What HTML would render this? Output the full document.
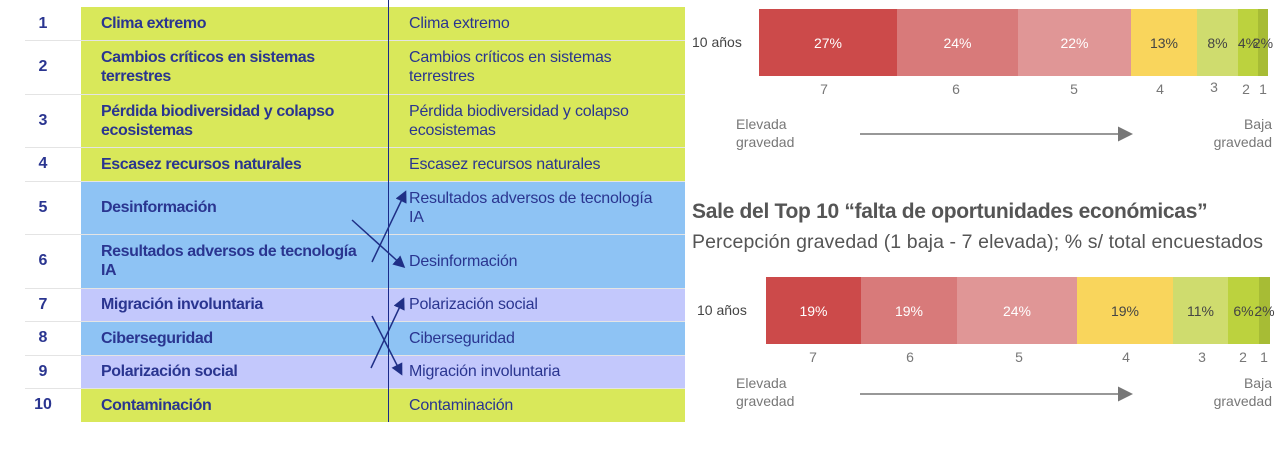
<!DOCTYPE html>
<html><head><meta charset="utf-8"><style>
body{margin:0;width:1288px;height:452px;background:#fff;font-family:"Liberation Sans",sans-serif;position:relative;overflow:hidden}
.a{position:absolute}
.row{position:absolute;left:25px;width:660px;border-top:1px solid #e4e4e4}
.num{position:absolute;left:25px;width:36px;text-align:center;font-weight:bold;color:#2a3590;font-size:16px}
.c1,.c2{position:absolute;box-sizing:border-box;display:flex;align-items:center;color:#2a3590;font-size:16px;line-height:19px;white-space:nowrap}
.c1{left:81px;width:307px;padding-left:20px;font-weight:bold;letter-spacing:-0.4px}
.c2{left:388px;width:297px;padding-left:21px;letter-spacing:-0.2px}
.g{background:#d9e85a}.b{background:#8ec3f4}.l{background:#c3c8fc}
.seg{position:absolute;display:flex;align-items:center;justify-content:center;font-size:14px;color:#fff;white-space:nowrap}
.d{color:#444}
.t{position:absolute;font-size:14px;color:#777;text-align:center;width:20px}
.s{position:absolute;font-size:14px;color:#777;line-height:18px}
</style></head><body>
<div class="c1 g" style="top:7px;height:33px">Clima extremo</div><div class="c2 g" style="top:7px;height:33px">Clima extremo</div>
<div class="c1 g" style="top:40px;height:54px">Cambios críticos en sistemas<br>terrestres</div><div class="c2 g" style="top:40px;height:54px">Cambios críticos en sistemas<br>terrestres</div>
<div class="c1 g" style="top:94px;height:53px">Pérdida biodiversidad y colapso<br>ecosistemas</div><div class="c2 g" style="top:94px;height:53px">Pérdida biodiversidad y colapso<br>ecosistemas</div>
<div class="c1 g" style="top:147px;height:34px">Escasez recursos naturales</div><div class="c2 g" style="top:147px;height:34px">Escasez recursos naturales</div>
<div class="c1 b" style="top:181px;height:53px">Desinformación</div><div class="c2 b" style="top:181px;height:53px;align-items:flex-start;padding-top:8px">Resultados adversos de tecnología<br>IA</div>
<div class="c1 b" style="top:234px;height:54px">Resultados adversos de tecnología<br>IA</div><div class="c2 b" style="top:234px;height:54px">Desinformación</div>
<div class="c1 l" style="top:288px;height:33px">Migración involuntaria</div><div class="c2 l" style="top:288px;height:33px">Polarización social</div>
<div class="c1 b" style="top:321px;height:34px">Ciberseguridad</div><div class="c2 b" style="top:321px;height:34px">Ciberseguridad</div>
<div class="c1 l" style="top:355px;height:33px">Polarización social</div><div class="c2 l" style="top:355px;height:33px">Migración involuntaria</div>
<div class="c1 g" style="top:388px;height:34px">Contaminación</div><div class="c2 g" style="top:388px;height:34px">Contaminación</div>
<div class="row" style="top:40px"></div><div class="row" style="top:94px"></div><div class="row" style="top:147px"></div><div class="row" style="top:181px"></div><div class="row" style="top:234px"></div><div class="row" style="top:288px"></div><div class="row" style="top:321px"></div><div class="row" style="top:355px"></div><div class="row" style="top:388px"></div>
<div class="num" style="top:15px">1</div><div class="num" style="top:58px">2</div><div class="num" style="top:112px">3</div><div class="num" style="top:155px">4</div><div class="num" style="top:199px">5</div><div class="num" style="top:252px">6</div><div class="num" style="top:296px">7</div><div class="num" style="top:329px">8</div><div class="num" style="top:363px">9</div><div class="num" style="top:396px">10</div>
<div class="a" style="left:388px;top:0;width:1px;height:422px;background:#1a2a8a"></div>
<svg class="a" style="left:0;top:0" width="1288" height="452">
<defs><marker id="m" markerWidth="8" markerHeight="8" refX="6" refY="4" orient="auto"><path d="M0,0 L8,4 L0,8z" fill="#1f2f86"/></marker>
<marker id="k" markerWidth="10" markerHeight="10" refX="8" refY="5" orient="auto"><path d="M0,0 L10,5 L0,10z" fill="#777"/></marker></defs>
<g stroke="#1f2f86" stroke-width="1.5" fill="none">
<line x1="352" y1="220" x2="403" y2="266" marker-end="url(#m)"/>
<line x1="372" y1="262" x2="405" y2="193" marker-end="url(#m)"/>
<line x1="372" y1="316" x2="401" y2="373" marker-end="url(#m)"/>
<line x1="371" y1="368" x2="403" y2="300" marker-end="url(#m)"/>
</g>
<line x1="860" y1="134" x2="1130" y2="134" stroke="#777" stroke-width="1.5" marker-end="url(#k)"/>
<line x1="860" y1="394" x2="1130" y2="394" stroke="#777" stroke-width="1.5" marker-end="url(#k)"/>
</svg>
<div class="a" style="left:692px;top:34px;font-size:14px;color:#444">10 años</div>
<div class="seg" style="left:759px;width:138px;top:9px;height:67px;background:#cc4a4a">27%</div>
<div class="seg" style="left:897px;width:121px;top:9px;height:67px;background:#d87a7a">24%</div>
<div class="seg" style="left:1018px;width:113px;top:9px;height:67px;background:#e09696">22%</div>
<div class="seg d" style="left:1131px;width:66px;top:9px;height:67px;background:#f9d55c">13%</div>
<div class="seg d" style="left:1197px;width:41px;top:9px;height:67px;background:#cfdc6e">8%</div>
<div class="seg d" style="left:1238px;width:20px;top:9px;height:67px;background:#bcd23e">4%</div>
<div class="seg d" style="left:1258px;width:10px;top:9px;height:67px;background:#a7bc35">2%</div>
<div class="t" style="left:814px;top:81px">7</div><div class="t" style="left:946px;top:81px">6</div><div class="t" style="left:1064px;top:81px">5</div><div class="t" style="left:1150px;top:81px">4</div><div class="t" style="left:1204px;top:79px">3</div><div class="t" style="left:1236px;top:81px">2</div><div class="t" style="left:1253px;top:81px">1</div>
<div class="s" style="left:736px;top:115px">Elevada<br>gravedad</div>
<div class="s" style="left:1200px;width:72px;text-align:right;top:115px">Baja<br>gravedad</div>
<div class="a" style="left:692px;top:200px;font-size:21px;font-weight:bold;color:#555;letter-spacing:-0.3px">Sale del Top 10 “falta de oportunidades económicas”</div>
<div class="a" style="left:692px;top:231px;font-size:19.5px;color:#555;letter-spacing:0.1px">Percepción gravedad (1 baja - 7 elevada); % s/ total encuestados</div>
<div class="a" style="left:697px;top:302px;font-size:14px;color:#444">10 años</div>
<div class="seg" style="left:766px;width:95px;top:277px;height:67px;background:#cc4a4a">19%</div>
<div class="seg" style="left:861px;width:96px;top:277px;height:67px;background:#d87a7a">19%</div>
<div class="seg" style="left:957px;width:120px;top:277px;height:67px;background:#e09696">24%</div>
<div class="seg d" style="left:1077px;width:96px;top:277px;height:67px;background:#f9d55c">19%</div>
<div class="seg d" style="left:1173px;width:55px;top:277px;height:67px;background:#cfdc6e">11%</div>
<div class="seg d" style="left:1228px;width:31px;top:277px;height:67px;background:#bcd23e">6%</div>
<div class="seg d" style="left:1259px;width:11px;top:277px;height:67px;background:#a7bc35">2%</div>
<div class="t" style="left:803px;top:349px">7</div><div class="t" style="left:900px;top:349px">6</div><div class="t" style="left:1009px;top:349px">5</div><div class="t" style="left:1116px;top:349px">4</div><div class="t" style="left:1192px;top:349px">3</div><div class="t" style="left:1233px;top:349px">2</div><div class="t" style="left:1254px;top:349px">1</div>
<div class="s" style="left:736px;top:374px">Elevada<br>gravedad</div>
<div class="s" style="left:1200px;width:72px;text-align:right;top:374px">Baja<br>gravedad</div>
</body></html>
